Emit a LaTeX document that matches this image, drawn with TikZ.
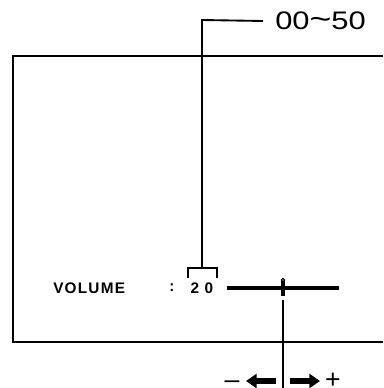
\documentclass[tikz,border=0pt]{standalone}
\usepackage{fontspec}
\usepackage{graphicx}
\setmainfont{Liberation Sans}
\newfontfamily\osdfont[LetterSpace=8]{Liberation Sans Bold}
\usetikzlibrary{arrows.meta, positioning}

\tikzset{
    osd/.style={inner sep=0pt, font=\osdfont\fontsize{11.5}{12}\selectfont},
    leader/.style={line width=1.4pt},
    sign/.style={inner sep=0pt, anchor=base, text depth=0pt, font=\fontsize{20}{20}\selectfont},
    bigarrow/.style={line width=3.8pt, -{Triangle[length=8pt, width=10.5pt]}}
}

\begin{document}
\begin{tikzpicture}[x=0.75pt, y=-0.75pt, >=latex]
    \useasboundingbox (0,0) rectangle (383,388);

    % Khung màn hình
    \draw[line width=1.4pt] (383,56) -- (13,56) -- (13,342) -- (383,342);

    % Dòng hiển thị VOLUME
    \node[osd, anchor=west] (vol) at (53,288) {VOLUME};
    \node[osd] (colon) at (172,288) {:};
    \node[osd] (val) at (202,288) {2 0};

    % Thanh trượt
    \coordinate (barL) at (227,288);
    \coordinate (barR) at (339,288);
    \draw[line width=2.6pt] (barL) -- (barR);
    \coordinate (thumbT) at (283,280);
    \coordinate (thumbB) at (283,296);
    \draw[line width=3pt] (thumbT) -- (thumbB);
    \draw[line width=0.8pt, fill=white] (283,280) circle (1.6);

    % Chú thích 00~50
    \node[inner sep=0pt, anchor=west, font=\fontsize{19}{20}\selectfont] (range) at (275,21)
        {\scalebox{1.22}[1]{00{\fontsize{23}{23}\selectfont\textasciitilde}50}};
    \coordinate (brL) at (188,278);
    \coordinate (brR) at (217,278);
    \coordinate (brTop) at (202,268);
    \draw[leader] (brL) |- (brR |- brTop) -- (brR);
    \draw[leader] (brTop) -- (202,20) -- (range.west -| 263,0);

    % Điều chỉnh - / +
    \coordinate (ctrlT) at (283,300);
    \coordinate (ctrlB) at (283,388);
    \draw[line width=1.4pt] (ctrlT) -- (ctrlB);
    \coordinate (lArrS) at (276,381);
    \coordinate (lArrE) at (246,381);
    \coordinate (rArrS) at (290,381);
    \coordinate (rArrE) at (320,381);
    \draw[bigarrow] (lArrS) -- (lArrE);
    \draw[bigarrow] (rArrS) -- (rArrE);
    \node[sign] (minus) at (232,388) {\textendash};
    \node[sign] (plus) at (333,388) {+};
\end{tikzpicture}
\end{document}
